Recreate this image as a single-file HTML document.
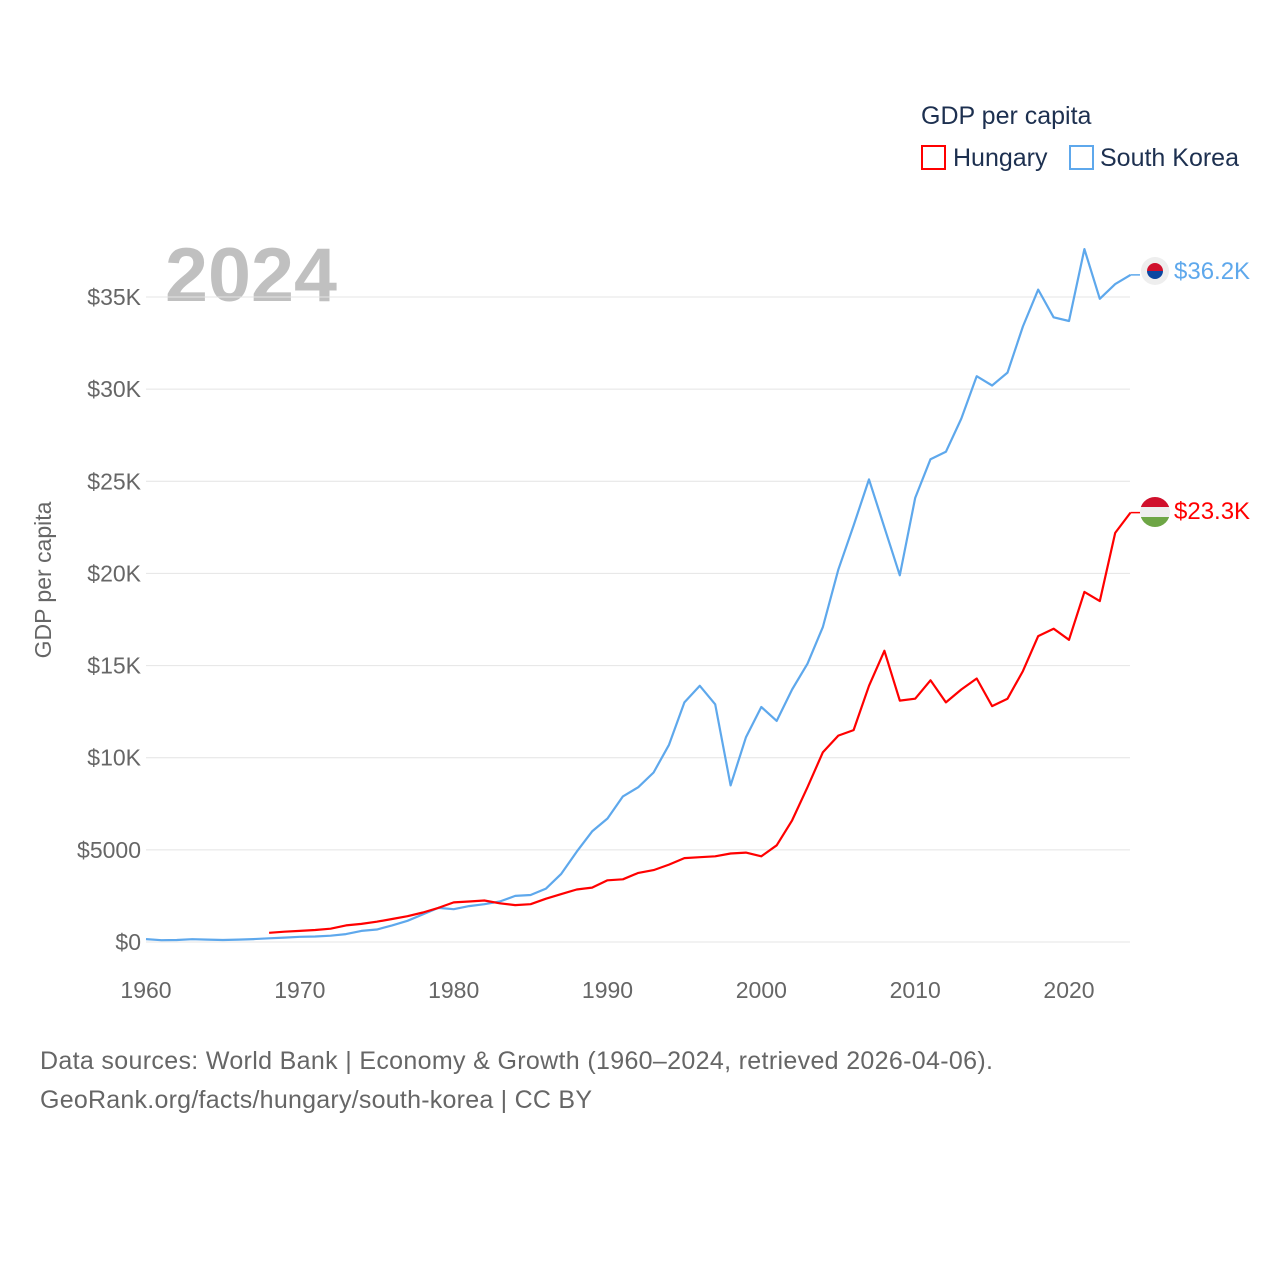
<!DOCTYPE html>
<html><head><meta charset="utf-8"><style>
body{margin:0;background:#fff;width:1280px;height:1280px;overflow:hidden;font-family:"Liberation Sans",sans-serif}
svg text{font-family:"Liberation Sans",sans-serif}
</style></head><body>
<svg id="c" width="1280" height="1280">
<text x="921" y="124" font-size="25" fill="#1d3050">GDP per capita</text>
<g><rect x="922" y="146" width="23" height="23" fill="none" stroke="#f00" stroke-width="2"/><text x="953" y="166" font-size="25" fill="#1d3050">Hungary</text></g>
<g><rect x="1070" y="146" width="23" height="23" fill="none" stroke="#5ea8ec" stroke-width="2"/><text x="1100" y="166" font-size="25" fill="#1d3050">South Korea</text></g>
<text x="165" y="301" font-size="76" font-weight="bold" fill="#c0c0c0" textLength="172" lengthAdjust="spacingAndGlyphs">2024</text>
<text transform="translate(51,580) rotate(-90)" text-anchor="middle" font-size="23" fill="#666">GDP per capita</text>
<g id="grid"></g><g id="lines"></g>
<g><circle cx="1155" cy="271" r="14" fill="#eee"/><path d="M1147 271a8 8 0 0 1 16 0z" fill="#d0102c"/><path d="M1147 271a8 8 0 0 0 16 0z" fill="#0b47a1"/></g>
<g><clipPath id="hc"><circle cx="1155" cy="512" r="15"/></clipPath><g clip-path="url(#hc)"><rect x="1140" y="497" width="30" height="10" fill="#d0102c"/><rect x="1140" y="507" width="30" height="10" fill="#eee"/><rect x="1140" y="517" width="30" height="10" fill="#6ea646"/></g></g>
<text x="1174" y="279" font-size="24" fill="#5ea8ec">$36.2K</text>
<text x="1174" y="519" font-size="24" fill="#f00">$23.3K</text>
<text x="40" y="1069" font-size="25" fill="#666" textLength="953">Data sources: World Bank | Economy &amp; Growth (1960–2024, retrieved 2026-04-06).</text>
<text x="40" y="1108" font-size="25" fill="#666" textLength="552">GeoRank.org/facts/hungary/south-korea | CC BY</text>
</svg>
<script>
const yTicks=[0,5000,10000,15000,20000,25000,30000,35000];
const yTickLabels=["$0","$5000","$10K","$15K","$20K","$25K","$30K","$35K"];
const xTicks=[1960,1970,1980,1990,2000,2010,2020];
const koreaStart=1960;
const korea=[0.16,0.1,0.11,0.15,0.13,0.11,0.13,0.16,0.2,0.24,0.28,0.3,0.34,0.43,0.6,0.68,0.9,1.15,1.5,1.85,1.78,1.95,2.05,2.2,2.5,2.55,2.9,3.7,4.9,6.0,6.7,7.9,8.4,9.2,10.7,13.0,13.9,12.9,8.5,11.1,12.75,12.0,13.7,15.1,17.1,20.2,22.6,25.1,22.5,19.9,24.1,26.2,26.6,28.4,30.7,30.2,30.9,33.4,35.4,33.9,33.7,37.6,34.9,35.7,36.2];
const hungaryStart=1968;
const hungary=[0.5,0.56,0.6,0.65,0.72,0.9,0.98,1.1,1.25,1.4,1.6,1.85,2.15,2.2,2.25,2.1,2.0,2.05,2.35,2.6,2.85,2.95,3.35,3.4,3.75,3.9,4.2,4.55,4.6,4.65,4.8,4.85,4.65,5.25,6.6,8.4,10.3,11.2,11.5,13.9,15.8,13.1,13.2,14.2,13.0,13.7,14.3,12.8,13.2,14.7,16.6,17.0,16.4,19.0,18.5,22.2,23.3];
const X=y=>146+(y-1960)*(923/60);
const Y=v=>942-v*(645/35000);
const ns="http://www.w3.org/2000/svg";
const grid=document.getElementById('grid'),lines=document.getElementById('lines');
function mk(tag,attrs,parent){const e=document.createElementNS(ns,tag);for(const k in attrs)e.setAttribute(k,attrs[k]);parent.appendChild(e);return e;}
yTicks.forEach((t,i)=>{
 const l=mk('line',{x1:146,x2:1130,y1:Y(t),y2:Y(t),stroke:'#e4e4e4','stroke-width':1},grid);
 
 
 const tx=mk('text',{x:141,y:Y(t)+8,'text-anchor':'end','font-size':23,fill:'#666'},grid);
 tx.textContent=yTickLabels[i];
 
 
});
xTicks.forEach(t=>{
 const tx=mk('text',{x:X(t),y:998,'text-anchor':'middle','font-size':23,fill:'#666'},grid);
 tx.textContent=t;
 
 
});
function series(arr,start,color,name){
 const pts=arr.map((v,i)=>X(start+i).toFixed(1)+','+Y(v*1000).toFixed(1));
 const p=mk('polyline',{points:pts.join(' '),fill:'none',stroke:color,'stroke-width':2.2,'stroke-linejoin':'round'},lines);
 
 
 const lx=X(start+arr.length-1),ly=Y(arr[arr.length-1]*1000);
 const c=mk('line',{x1:lx,y1:ly,x2:1140,y2:ly,stroke:color,'stroke-width':1.5},lines);
 
 
}
series(korea,koreaStart,'#5ea8ec','south-korea-line');
series(hungary,hungaryStart,'#f00','hungary-line');
</script>
</body></html>
